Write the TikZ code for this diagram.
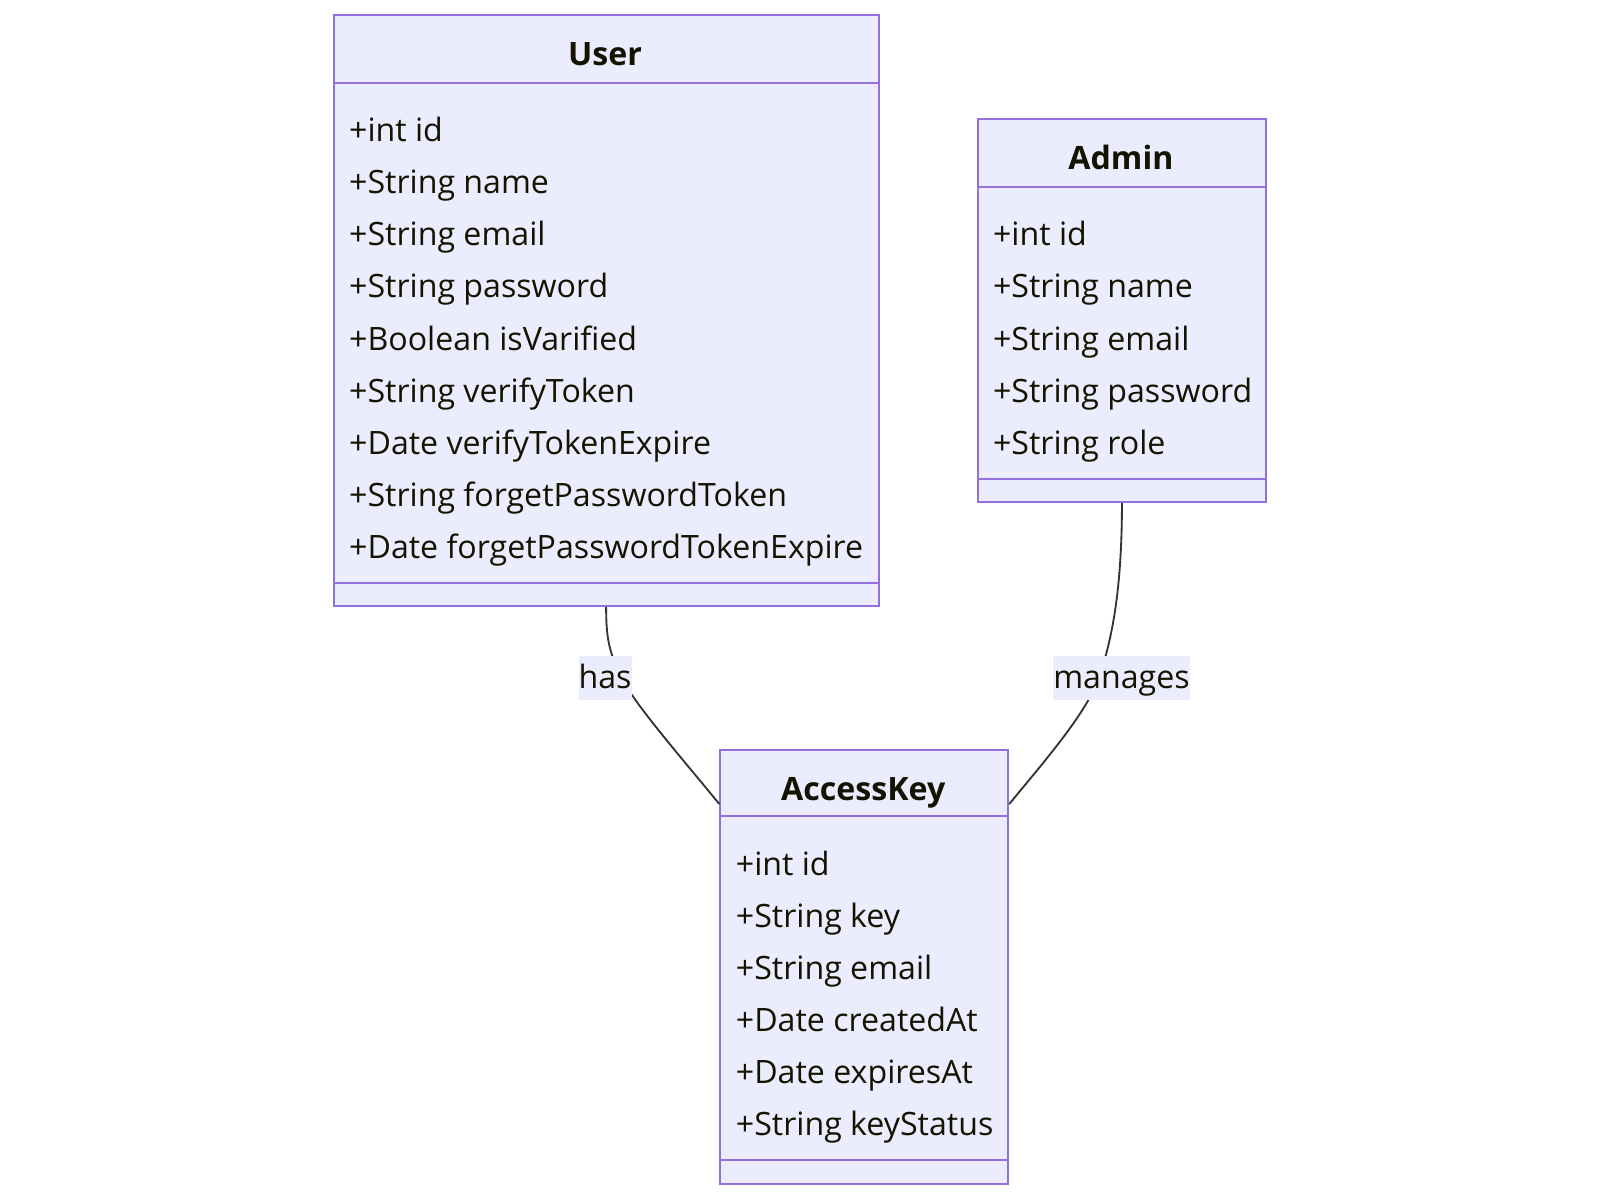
\documentclass[tikz,border=0pt]{standalone}
\usepackage{fontspec}
\setmainfont{Open Sans}
\definecolor{boxfill}{HTML}{ECECFF}
\definecolor{boxborder}{HTML}{9370DB}
\definecolor{textcol}{HTML}{131300}
\definecolor{linecol}{HTML}{333333}
\definecolor{labelfill}{HTML}{ECECFF}
\begin{document}
\begin{tikzpicture}[x=1pt,y=-1pt,
  classbox/.style={draw=boxborder, fill=boxfill, line width=2pt, anchor=north west, inner sep=0pt},
  divider/.style={draw=boxborder, line width=2pt},
  title/.style={font=\fontsize{31.5}{38}\selectfont\bfseries, text=textcol, anchor=base, inner sep=0pt},
  attr/.style={font=\fontsize{31.5}{38}\selectfont, text=textcol, anchor=base west, inner sep=0pt},
  rel/.style={draw=linecol, line width=1.8pt},
  rellabel/.style={font=\fontsize{31.5}{38}\selectfont, text=textcol, fill=labelfill, inner xsep=0pt, inner ysep=0pt, text height=26pt, text depth=4pt, minimum height=43pt}]
\useasboundingbox (1,1) rectangle (1569,1177);

% User
\node[classbox, minimum width=534pt, minimum height=579pt] (user) at (327,15) {};
\draw[divider] (327,82) -- (861,82);
\draw[divider] (327,572) -- (861,572);
\node[title] (usertitle) at (594,65) {User};
\foreach \t [count=\i from 0] in {+int id, +String name, +String email, +String password, +Boolean isVarified, +String verifyToken, +Date verifyTokenExpire, +String forgetPasswordToken, +Date forgetPasswordTokenExpire}
  \node[attr] (user\i) at (343,{140+51*\i}) {\t};

% Admin
\node[classbox, minimum width=283pt, minimum height=375pt] (admin) at (958,117) {};
\draw[divider] (958,184) -- (1241,184);
\draw[divider] (958,470) -- (1241,470);
\node[title] (admintitle) at (1099.5,167) {Admin};
\foreach \t [count=\i from 0] in {+int id, +String name, +String email, +String password, +String role}
  \node[attr] (admin\i) at (974,{242+51*\i}) {\t};

% AccessKey
\node[classbox, minimum width=282pt, minimum height=425pt] (ak) at (706,735) {};
\draw[divider] (706,801) -- (988,801);
\draw[divider] (706,1138) -- (988,1138);
\node[title] (aktitle) at (847,785) {AccessKey};
\foreach \t [count=\i from 0] in {+int id, +String key, +String email, +Date createdAt, +Date expiresAt, +String keyStatus}
  \node[attr] (ak\i) at (722,{859+51*\i}) {\t};

% relations
\coordinate (hasmid) at (610,665);
\coordinate (managesmid) at (1078,665);
\draw[rel] (user.south) .. controls +(0,31) and +(-12,-25) .. (hasmid)
  .. controls +(12,25) and +(-36,-44) .. ([yshift=-54pt]ak.north west);
\draw[rel] (admin.south) .. controls +(0,88) and +(12,-35) .. (managesmid)
  .. controls +(-12,35) and +(32,-39) .. ([yshift=-54pt]ak.north east);
\node[rellabel] (has) at (594,665) {has};
\node[rellabel] (manages) at (1100,665) {manages};

\end{tikzpicture}
\end{document}
